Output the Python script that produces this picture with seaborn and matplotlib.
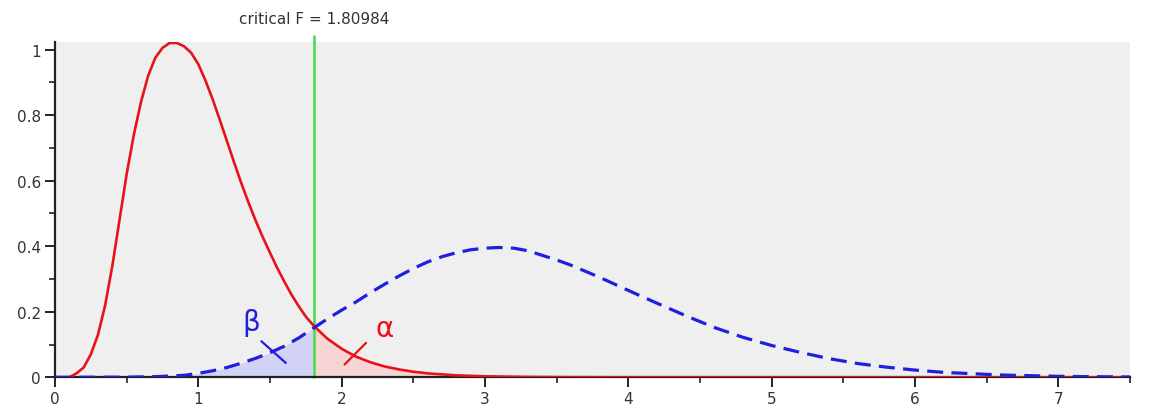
import numpy as np
import pandas as pd
import matplotlib
matplotlib.use("Agg")
import matplotlib.pyplot as plt
from matplotlib.ticker import MultipleLocator, FuncFormatter
import seaborn as sns

# values
crit_f = 1.80984

# central F density (red, solid)
red_x = [0.0, 0.1, 0.15, 0.2, 0.25, 0.3, 0.35, 0.4, 0.45, 0.5, 0.55, 0.6, 0.65, 0.7,
         0.75, 0.8, 0.85, 0.9, 0.95, 1.0, 1.05, 1.1, 1.15, 1.2, 1.25, 1.3, 1.35, 1.4,
         1.45, 1.5, 1.55, 1.6, 1.65, 1.7, 1.75, 1.80984, 1.9, 2.0, 2.1, 2.2, 2.3, 2.4,
         2.5, 2.6, 2.8, 3.0, 3.3, 3.6, 4.0, 7.5]
red_y = [0.0, 0.0, 0.012, 0.03, 0.07, 0.13, 0.22, 0.34, 0.48, 0.62, 0.74, 0.84, 0.92, 0.975,
         1.005, 1.02, 1.02, 1.01, 0.99, 0.955, 0.905, 0.848, 0.785, 0.72, 0.655, 0.592, 0.533,
         0.478, 0.427, 0.38, 0.334, 0.292, 0.252, 0.217, 0.185, 0.155, 0.118, 0.087, 0.063,
         0.046, 0.033, 0.024, 0.017, 0.012, 0.006, 0.003, 0.001, 0.0003, 0.0, 0.0]

# noncentral F density (blue, dashed)
blue_x = [0.0, 0.5, 0.7, 0.9, 1.0, 1.1, 1.2, 1.3, 1.4, 1.5, 1.6, 1.7, 1.80984, 1.9, 2.0,
          2.1, 2.2, 2.3, 2.4, 2.5, 2.6, 2.7, 2.8, 2.9, 3.0, 3.1, 3.2, 3.3, 3.4, 3.5, 3.6,
          3.8, 4.0, 4.2, 4.4, 4.6, 4.8, 5.0, 5.2, 5.4, 5.6, 5.8, 6.0, 6.2, 6.4, 6.6, 6.8,
          7.0, 7.2, 7.5]
blue_y = [0.0, 0.0005, 0.002, 0.006, 0.012, 0.02, 0.03, 0.043, 0.058, 0.075, 0.095, 0.12, 0.152,
          0.178, 0.205, 0.23, 0.258, 0.284, 0.309, 0.332, 0.352, 0.368, 0.38, 0.389, 0.394,
          0.396, 0.394, 0.386, 0.372, 0.358, 0.342, 0.305, 0.265, 0.226, 0.188, 0.152, 0.122,
          0.097, 0.076, 0.057, 0.042, 0.031, 0.022, 0.015, 0.011, 0.007, 0.005, 0.003, 0.002, 0.001]

x_ticks = [0, 1, 2, 3, 4, 5, 6, 7]
y_ticks = [0, 0.2, 0.4, 0.6, 0.8, 1.0]

# label positions for alpha / beta markers (data units)
beta_text = (1.37, 0.17)
beta_mark = ([1.44, 1.61], [0.110, 0.044])
alpha_text = (2.30, 0.15)
alpha_mark = ([2.02, 2.17], [0.039, 0.105])

red_col = "#e8121a"
blue_col = "#1f1fdd"
green_col = "#45dc45"

red = pd.DataFrame({"x": red_x, "y": red_y})
blue = pd.DataFrame({"x": blue_x, "y": blue_y})

sns.set_style("ticks")
plt.rcParams["font.family"] = ["DejaVu Sans"]

fig = plt.figure(figsize=(11.55, 4.14), dpi=100)
ax = fig.add_axes([55 / 1155, 35.7 / 414, 1075 / 1155, 335 / 414])
ax.set_facecolor("#efefef")

# shaded areas: beta under blue left of critical F, alpha under red right of it
bl = blue[blue.x <= crit_f]
ax.fill_between(bl.x, 0, bl.y, color="#d2d2f6", lw=0, zorder=1)
rr = red[red.x >= crit_f]
ax.fill_between(rr.x, 0, rr.y, color="#f8d5d5", lw=0, zorder=1)

ax.axvline(crit_f, ymin=0, ymax=1.02, color=green_col, lw=1.8, clip_on=False, zorder=2)

sns.lineplot(data=red, x="x", y="y", ax=ax, color=red_col, lw=1.9, zorder=3)
sns.lineplot(data=blue, x="x", y="y", ax=ax, color=blue_col, lw=2.3, zorder=3)
ax.lines[-1].set_dashes((5, 2.6))

ax.plot(*beta_mark, color=blue_col, lw=1.6, zorder=4)
ax.plot(*alpha_mark, color=red_col, lw=1.6, zorder=4)
ax.text(*beta_text, "β", color=blue_col, fontsize=20, ha="center", va="center")
ax.text(*alpha_text, "α", color=red_col, fontsize=20, ha="center", va="center")

ax.annotate(f"critical F = {crit_f}", xy=(crit_f, 1.07), xycoords=("data", "axes fraction"),
            ha="center", va="center", fontsize=11, color="#333333")

ax.set_xlim(0, 7.5)
ax.set_ylim(0, 1.022)
ax.set_xticks(x_ticks)
ax.set_yticks(y_ticks)
ax.xaxis.set_minor_locator(MultipleLocator(0.5))
ax.yaxis.set_minor_locator(MultipleLocator(0.1))
ax.yaxis.set_major_formatter(FuncFormatter(lambda v, p: f"{v:g}"))
ax.set_xlabel("")
ax.set_ylabel("")

for s in ["top", "right"]:
    ax.spines[s].set_visible(False)
for s in ["left", "bottom"]:
    ax.spines[s].set_color("#222222")
    ax.spines[s].set_linewidth(1.6)
ax.tick_params(which="major", length=7, width=1.4, color="#222222", labelsize=11,
               labelcolor="#333333", pad=3)
ax.tick_params(which="minor", length=4, width=1.2, color="#222222")

fig.savefig("out.png", dpi=100)
